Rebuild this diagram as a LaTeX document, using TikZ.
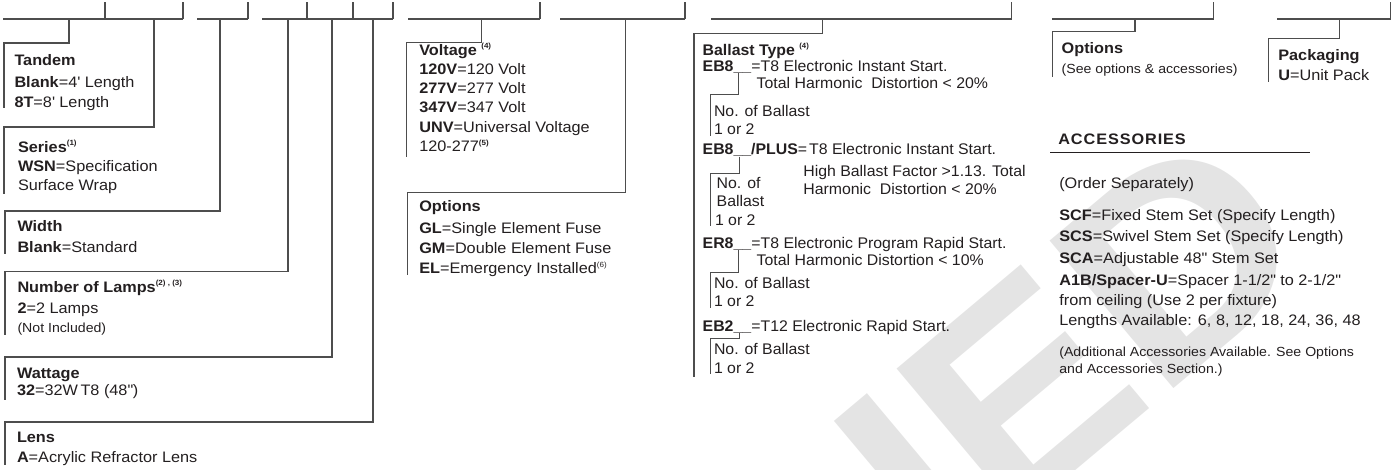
\documentclass[tikz,border=0pt]{standalone}
\usepackage{fontspec}
\setmainfont{Liberation Sans}[FakeStretch=1.07]
\newfontfamily\ballf{Liberation Sans}[FakeStretch=1.03]
\definecolor{ink}{HTML}{231F20}
\definecolor{rulec}{HTML}{4D4D4D}
\definecolor{wm}{HTML}{E4E4E4}
\newcommand\bodyf{\fontsize{15.2}{18}\selectfont}
\newcommand\smallf{\fontsize{13.2}{16}\selectfont}
\newcommand\ballsz{\ballf\fontsize{15.4}{18}\selectfont}
\newcommand\supnote[1]{\raisebox{0.8ex}{\fontsize{7.5}{8}\selectfont\bfseries #1}}
\newcommand\supreg[1]{\raisebox{0.8ex}{\fontsize{7.5}{8}\selectfont #1}}
\newcommand\qq{\textquotedbl}
\tikzset{
  ln/.style={draw=rulec, line width=1.15pt},
  tx/.style={anchor=base west, inner sep=0pt, outer sep=0pt, text=ink, font=\bodyf},
  sm/.style={tx, font=\smallf},
  bt/.style={tx, font=\ballsz},
  wmark/.style={rotate=40, anchor=base east, inner sep=0pt, text=wm, font=\fontsize{280}{280}\selectfont\bfseries},
}
\begin{document}
\begin{tikzpicture}[x=1pt,y=-1pt]
\useasboundingbox (0,0) rectangle (1399,469);
% watermark (visible end of a diagonal stamp)
\begin{scope}
\clip (0,0) rectangle (1399,469);
\node[wmark] (wmk) at (1324,262) {UED};
\end{scope}

% ---- top code bars ----
\draw[ln] (3,19) -- (183,19) (105,2) -- (105,19) (183,2) -- (183,19);
\draw[ln] (197,19) -- (248,19) (248,2) -- (248,19);
\draw[ln] (262,19) -- (393,19) (307,2) -- (307,19) (353,2) -- (353,19) (393,2) -- (393,19);
\draw[ln] (408,19) -- (540,19) (540,2) -- (540,19);
\draw[ln] (560,19) -- (685,19) (685,2) -- (685,19);
\draw[ln] (711,19) -- (1011.5,19) (1011.5,2) -- (1011.5,19);
\draw[ln] (1052,19) -- (1213.5,19) (1213.5,2) -- (1213.5,19);
\draw[ln] (1277,19) -- (1390.5,19) (1390.5,2) -- (1390.5,19);

% ---- drop coordinates ----
\coordinate (dTan) at (69,19);
\coordinate (dSer) at (154,19);
\coordinate (dWid) at (220,19);
\coordinate (dLam) at (288,19);
\coordinate (dWat) at (332,19);
\coordinate (dLen) at (373,19);
\coordinate (dVol) at (481.7,19);
\coordinate (dOpt) at (625.7,19);
\coordinate (dBal) at (822.7,19);
\coordinate (dOp2) at (1135,19);
\coordinate (dPak) at (1339.3,19);

% ---- left column boxes ----
\draw[ln] (dTan) |- (4,43) -- (4,108);
\draw[ln] (dSer) |- (4,127) -- (4,194);
\draw[ln] (dWid) |- (5,211) -- (5,254);
\draw[ln] (dLam) |- (5,271.5) -- (5,335);
\draw[ln] (dWat) |- (5,357) -- (5,400);
\draw[ln] (dLen) |- (5,422) -- (5,465);

\node[tx] (tan1) at (14.5,65.3) {\textbf{Tandem}};
\node[tx] (tan2) at (14.5,87) {\textbf{Blank}=4\textquotesingle{} Length};
\node[tx] (tan3) at (14.5,107) {\textbf{8T}=8\textquotesingle{} Length};

\node[tx] (ser1) at (18,152) {\textbf{Series}\supnote{(1)}};
\node[tx] (ser2) at (18,171.5) {\textbf{WSN}=Specification};
\node[tx] (ser3) at (18,190.5) {Surface Wrap};

\node[tx] (wid1) at (17.5,231.5) {\textbf{Width}};
\node[tx] (wid2) at (17.5,252) {\textbf{Blank}=Standard};

\node[tx] (lam1) at (17.5,292) {\textbf{Number of Lamps}\supnote{(2) , (3)}};
\node[tx] (lam2) at (17.5,313) {\textbf{2}=2 Lamps};
\node[sm] (lam3) at (17.5,332) {(Not Included)};

\node[tx] (wat1) at (17,378) {\textbf{Wattage}};
\node[tx] (wat2) at (17,395) {\textbf{32}=32W\kern2.5pt T8 (48\qq)};

\node[tx] (len1) at (17,442) {\textbf{Lens}};
\node[tx] (len2) at (17,462) {\textbf{A}=Acrylic Refractor Lens};

% ---- voltage & options ----
\draw[ln] (dVol) |- (406.7,42.7) -- (406.7,156.7);
\draw[ln] (dOpt) |- (407.3,192.7) -- (407.3,275);

\node[tx] (vol1) at (419.3,55) {\textbf{Voltage} \supnote{(4)}};
\node[tx] (vol2) at (419.3,74) {\textbf{120V}=120 Volt};
\node[tx] (vol3) at (419.3,93) {\textbf{277V}=277 Volt};
\node[tx] (vol4) at (419.3,112.3) {\textbf{347V}=347 Volt};
\node[tx] (vol5) at (419.3,132) {\textbf{UNV}=Universal Voltage};
\node[tx] (vol6) at (419.3,151.5) {120-277\supnote{(5)}};

\node[tx] (opt1) at (419.3,211.5) {\textbf{Options}};
\node[tx] (opt2) at (419.3,233) {\textbf{GL}=Single Element Fuse};
\node[tx] (opt3) at (419.3,253) {\textbf{GM}=Double Element Fuse};
\node[tx] (opt4) at (419.3,273.5) {\textbf{EL}=Emergency Installed\supreg{(6)}};

% ---- ballast ----
\draw[ln] (dBal) |- (694,33.3) -- (694,377.3);
\coordinate (k1) at (738.3,73);
\coordinate (k2) at (739.3,156.5);
\coordinate (k3) at (738.3,250);
\coordinate (k4) at (739.3,333);
\draw[ln] (k1) |- (710.7,94.3) -- (710.7,135.5);
\draw[ln] (k2) |- (710.7,173.3) -- (710.7,226);
\draw[ln] (k3) |- (710.7,272.7) -- (710.7,308);
\draw[ln] (k4) |- (710.7,338.3) -- (710.7,374);

\node[bt] (bal0) at (702.7,55.3) {\textbf{Ballast Type} \supnote{(4)}};
\node[bt] (bal1) at (702.7,71.5) {\textbf{EB8\_\_}=T8 Electronic Instant Start.};
\node[bt] (bal2) at (756.7,88.3) {Total Harmonic\ \ Distortion < 20\%};
\node[bt] (bal3) at (714,116.7) {No. of Ballast};
\node[bt] (bal4) at (714,134) {1 or 2};
\node[bt] (bal5) at (702.7,154.7) {\textbf{EB8\_\_/PLUS}=\kern2pt T8 Electronic Instant Start.};
\node[bt] (bal6) at (803.3,176) {High Ballast Factor >1.13. Total};
\node[bt] (bal7) at (803.3,194) {Harmonic\ \ Distortion < 20\%};
\node[bt] (bal8) at (716.7,188) {No. of};
\node[bt] (bal9) at (716.7,206) {Ballast};
\node[bt] (bal10) at (715,225) {1 or 2};
\node[bt] (bal11) at (702.7,248.3) {\textbf{ER8\_\_}=T8 Electronic Program Rapid Start.};
\node[bt] (bal12) at (756.7,265) {Total Harmonic Distortion < 10\%};
\node[bt] (bal13) at (714,288) {No. of Ballast};
\node[bt] (bal14) at (714,306.7) {1 or 2};
\node[bt] (bal15) at (702.7,331.5) {\textbf{EB2\_\_}=T12 Electronic Rapid Start.};
\node[bt] (bal16) at (714,354.7) {No. of Ballast};
\node[bt] (bal17) at (714,373) {1 or 2};

% ---- options / packaging ----
\draw[ln] (dOp2) |- (1052.7,31.7) -- (1052.7,77.3);
\draw[ln] (dPak) |- (1268.3,38.3) -- (1268.3,81.7);
\node[tx] (op21) at (1061.7,53.7) {\textbf{Options}};
\node[sm] (op22) at (1061.7,73) {(See options \& accessories)};
\node[tx] (pak1) at (1278.3,60.3) {\textbf{Packaging}};
\node[tx] (pak2) at (1278.3,80.3) {\textbf{U}=Unit Pack};

% ---- accessories ----
\node[tx, font=\fontsize{15.2}{18}\selectfont\bfseries\addfontfeature{LetterSpace=6}] (acc0) at (1058.3,144.5) {ACCESSORIES};
\coordinate (ulL) at (1050,152.5);
\coordinate (ulR) at (1310,152.5);
\draw[draw=ink, line width=1pt] (ulL) -- (ulR);
\node[tx] (acc1) at (1059.3,188) {(Order Separately)};
\node[tx] (acc2) at (1059.3,220) {\textbf{SCF}=Fixed Stem Set (Specify Length)};
\node[tx] (acc3) at (1059.3,241.5) {\textbf{SCS}=Swivel Stem Set (Specify Length)};
\node[tx] (acc4) at (1059.3,263) {\textbf{SCA}=Adjustable 48\qq{} Stem Set};
\node[tx] (acc5) at (1059.3,285.5) {\textbf{A1B/Spacer-U}=Spacer 1-1/2\qq{} to 2-1/2\qq};
\node[tx] (acc6) at (1059.3,305) {from ceiling (Use 2 per fixture)};
\node[tx] (acc7) at (1059.3,325) {Lengths Available: 6, 8, 12, 18, 24, 36, 48};
\node[sm] (acc8) at (1059.3,356) {(Additional Accessories Available. See Options};
\node[sm] (acc9) at (1059.3,373) {and Accessories Section.)};
\end{tikzpicture}
\end{document}
